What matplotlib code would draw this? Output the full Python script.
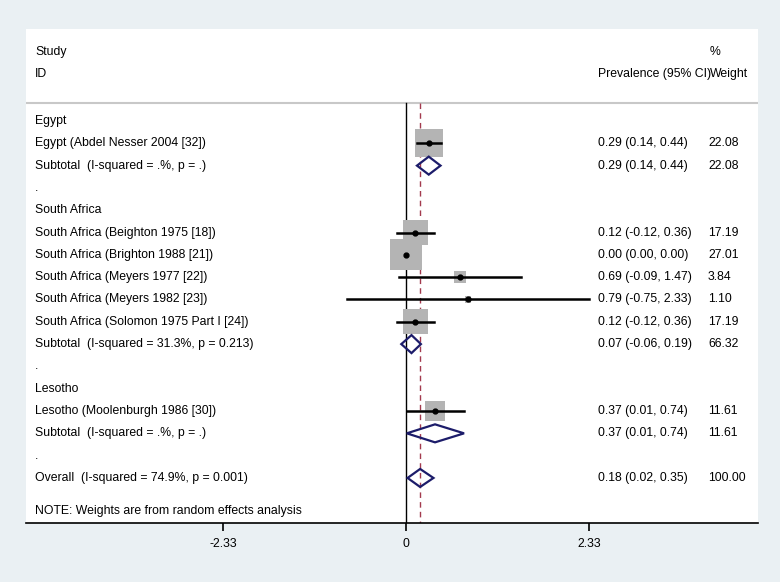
import numpy as np
import matplotlib
matplotlib.use('Agg')
import matplotlib.pyplot as plt
from matplotlib.patches import Polygon
import matplotlib.transforms as mtransforms

plt.rcParams['font.family'] = ['Liberation Sans', 'DejaVu Sans']

# rows of the forest plot
labels = ['Egypt', 'Egypt (Abdel Nesser 2004 [32])', 'Subtotal  (I-squared = .%, p = .)', '.',
          'South Africa', 'South Africa (Beighton 1975 [18])', 'South Africa (Brighton 1988 [21])',
          'South Africa (Meyers 1977 [22])', 'South Africa (Meyers 1982 [23])',
          'South Africa (Solomon 1975 Part I [24])', 'Subtotal  (I-squared = 31.3%, p = 0.213)', '.',
          'Lesotho', 'Lesotho (Moolenburgh 1986 [30])', 'Subtotal  (I-squared = .%, p = .)', '.',
          'Overall  (I-squared = 74.9%, p = 0.001)']
kinds = ['h', 's', 'd', 'h', 'h', 's', 's', 's', 's', 's', 'd', 'h', 'h', 's', 'd', 'h', 'd']
est = [None, 0.29, 0.29, None, None, 0.12, 0.00, 0.69, 0.79, 0.12, 0.07, None, None, 0.37, 0.37, None, 0.18]
lo = [None, 0.14, 0.14, None, None, -0.12, 0.00, -0.09, -0.75, -0.12, -0.06, None, None, 0.01, 0.01, None, 0.02]
hi = [None, 0.44, 0.44, None, None, 0.36, 0.00, 1.47, 2.33, 0.36, 0.19, None, None, 0.74, 0.74, None, 0.35]
weights = [None, 22.08, 22.08, None, None, 17.19, 27.01, 3.84, 1.10, 17.19, 66.32, None, None, 11.61, 11.61, None, 100.00]
overall = 0.18
ticks = [-2.33, 0, 2.33]
tick_labels = ['-2.33', '0', '2.33']

bg = '#eaf0f3'
navy = '#1c1c6a'

fig = plt.figure(figsize=(7.8, 5.82), dpi=100, facecolor=bg)
W, H = 780, 582
x0, x1 = 26, 758
y0, y1 = 29, 523
ax = fig.add_axes([x0 / W, 1 - y1 / H, (x1 - x0) / W, (y1 - y0) / H])
ax.set_facecolor('white')

px_unit = 78.45  # pixels per effect unit
zero_px = 406
row_px = 22.31
ax.set_xlim((x0 - zero_px) / px_unit, (x1 - zero_px) / px_unit)
ax.set_ylim((y1 - 121) / row_px, (y0 - 121) / row_px)

fs = 8.8
for s in ['top', 'left', 'right']:
    ax.spines[s].set_visible(False)
ax.spines['bottom'].set_linewidth(1.2)
ax.set_xticks(ticks)
ax.set_xticklabels(tick_labels, fontsize=fs)
ax.set_yticks([])
ax.tick_params(axis='x', length=6, width=1.2, pad=5)

trans = mtransforms.blended_transform_factory(ax.transAxes, ax.transData)
lx = (35 - x0) / (x1 - x0)
ex = (598 - x0) / (x1 - x0)
wx = (708 - x0) / (x1 - x0)

# header
hdr_top = (52 - 121) / row_px
hdr_bot = (74 - 121) / row_px
sep = (103 - 121) / row_px
ax.text(lx, hdr_top, 'Study', transform=trans, fontsize=fs, va='center')
ax.text(lx, hdr_bot, 'ID', transform=trans, fontsize=fs, va='center')
ax.text((715 - x0) / (x1 - x0), hdr_top, '%', transform=trans, fontsize=fs, va='center', ha='center')
ax.text(ex, hdr_bot, 'Prevalence (95% CI)', transform=trans, fontsize=fs, va='center')
ax.text((748 - x0) / (x1 - x0), hdr_bot, 'Weight', transform=trans, fontsize=fs, va='center', ha='right')
ax.axhline(sep, color='#c8c8c8', lw=1.5)

ybot = (y1 - 121) / row_px
ax.plot([0, 0], [sep, ybot], color='black', lw=1.0)
ax.plot([overall, overall], [sep, ybot], color='#a33a4e', lw=1.0, dashes=(4, 3))

for i, lab in enumerate(labels):
    ax.text(lx, i, lab, transform=trans, fontsize=fs, va='center')
    if kinds[i] == 'h':
        continue
    ax.text(ex, i, '%.2f (%.2f, %.2f)' % (est[i], lo[i], hi[i]), transform=trans, fontsize=fs, va='center')
    ax.text(wx, i, '%.2f' % weights[i], transform=trans, fontsize=fs, va='center')
    if kinds[i] == 's':
        side = 6.0 * np.sqrt(weights[i]) * 0.72
        ax.scatter([est[i]], [i], marker='s', s=side ** 2, color='#b4b4b4', edgecolors='none', zorder=3)
        ax.plot([lo[i], hi[i]], [i, i], color='black', lw=1.8, zorder=4)
        ax.plot([est[i]], [i], 'o', color='black', ms=3.5, zorder=5)
    else:
        h = 9 / row_px
        d = Polygon([(lo[i], i), (est[i], i - h), (hi[i], i), (est[i], i + h)],
                    closed=True, fill=False, edgecolor=navy, lw=1.6, zorder=4)
        ax.add_patch(d)

ax.text(lx, (511 - 121) / row_px, 'NOTE: Weights are from random effects analysis',
        transform=trans, fontsize=fs, va='center')

fig.savefig('out.png', dpi=100, facecolor=bg)
